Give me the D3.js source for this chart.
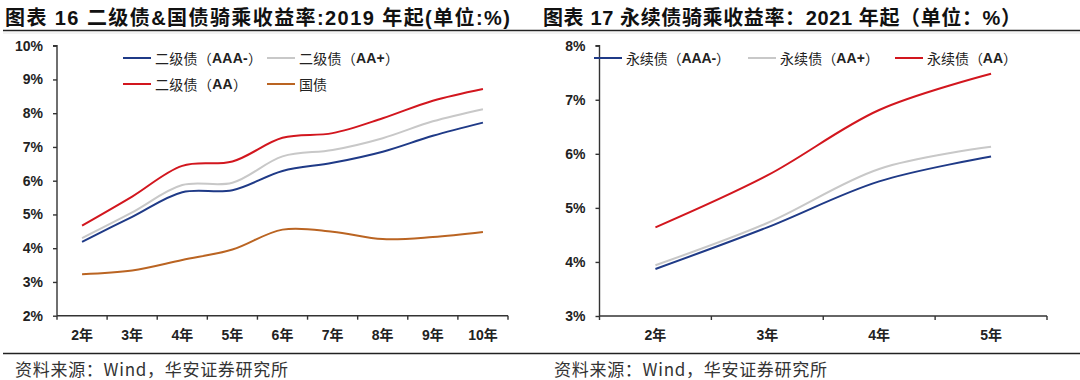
<!DOCTYPE html>
<html>
<head>
<meta charset="utf-8">
<script src="https://cdn.jsdelivr.net/npm/d3@7/dist/d3.min.js"></script>
<style>
html,body{margin:0;padding:0;background:#fff;}
svg{display:block;}
</style>
</head>
<body>
<svg id="c" width="1080" height="380"></svg>
<script>
// ---- Data ----
const leftCategories = ["2年","3年","4年","5年","6年","7年","8年","9年","10年"];
const leftAAAminus = [4.19, 4.93, 5.66, 5.72, 6.29, 6.53, 6.86, 7.33, 7.72];
const leftAAplus   = [4.30, 5.06, 5.87, 5.94, 6.72, 6.91, 7.26, 7.76, 8.12];
const leftAA       = [4.67, 5.53, 6.44, 6.57, 7.27, 7.41, 7.85, 8.37, 8.72];
const leftGov      = [3.23, 3.34, 3.65, 3.96, 4.55, 4.49, 4.27, 4.33, 4.48];
const leftYTicks   = [2,3,4,5,6,7,8,9,10];

const rightCategories = ["2年","3年","4年","5年"];
const rightAAAminus = [3.87, 4.64, 5.49, 5.95];
const rightAAplus   = [3.94, 4.72, 5.72, 6.13];
const rightAA       = [4.64, 5.60, 6.81, 7.48];
const rightYTicks   = [3,4,5,6,7,8];

const leftTitle  = "图表 16 二级债&国债骑乘收益率:2019 年起(单位:%)";
const rightTitle = "图表 17 永续债骑乘收益率：2021 年起（单位：%）";
const sourceText = "资料来源：Wind，华安证券研究所";

const C = {blue:"#1F3A87", grey:"#C8C8C8", red:"#D2161E", brown:"#BA6422"};

const svg = d3.select("#c");
const CJK = "'Noto Sans CJK SC','Noto Sans',sans-serif";
const LAT = "Arial,'Liberation Sans',sans-serif";

// titles
function title(x, txt, w){
  svg.append("text").attr("x",x).attr("y",25)
    .attr("font-family",LAT+","+CJK).attr("font-size",20).attr("font-weight","bold")
    .attr("textLength",w).attr("lengthAdjust","spacing")
    .attr("fill","#111").text(txt);
}
title(5, leftTitle, 505);
title(543, rightTitle, 478);

// rules
svg.append("line").attr("x1",3).attr("x2",1080).attr("y1",30.5).attr("y2",30.5).attr("stroke","#222").attr("stroke-width",1.5);
svg.append("line").attr("x1",3).attr("x2",1080).attr("y1",33).attr("y2",33).attr("stroke","#e6e6e6").attr("stroke-width",1);
svg.append("line").attr("x1",3).attr("x2",1080).attr("y1",353.5).attr("y2",353.5).attr("stroke","#222").attr("stroke-width",1.5);

// sources
[15, 554].forEach(x=>{
  svg.append("text").attr("x",x).attr("y",376).attr("font-family",CJK).attr("font-size",17)
    .attr("textLength",273).attr("lengthAdjust","spacing")
    .attr("fill","#333").text(sourceText);
});

function legendText(g, x, y, label, w){
  const t = g.append("text").attr("x",x).attr("y",y).attr("dominant-baseline","central")
    .attr("font-size",14).attr("fill","#222")
    .attr("textLength",w).attr("lengthAdjust","spacing");
  const parts = label.match(/[A-Za-z+\-]+|[^A-Za-z+\-]+/g);
  parts.forEach(p=>{
    const latin = /[A-Za-z]/.test(p) || /^[+\-]+$/.test(p);
    t.append("tspan").text(p)
      .attr("font-family", latin ? LAT : CJK)
      .attr("font-weight", latin ? "bold" : "normal");
  });
}

function chart(opt){
  const g = svg.append("g");
  const x = d3.scaleBand().domain(opt.cats).range([opt.x0, opt.x1]);
  const y = d3.scaleLinear().domain([opt.ymin, opt.ymax]).range([opt.y1, opt.y0]);

  const yAxis = d3.axisLeft(y).tickValues(opt.yticks).tickSize(4).tickPadding(10)
    .tickFormat(d=>d+"%");
  const ya = g.append("g").attr("transform",`translate(${opt.x0},0)`).call(yAxis);
  const xAxis = d3.axisBottom(x).tickSize(4).tickPadding(10);
  const xa = g.append("g").attr("transform",`translate(0,${opt.y1})`).call(xAxis);
  xa.selectAll(".tick line").remove();
  const bounds = opt.cats.map(c=>x(c)).concat([opt.x1]);
  xa.selectAll(".bt").data(bounds).enter().append("line").attr("class","bt")
    .attr("x1",d=>d).attr("x2",d=>d).attr("y1",0).attr("y2",4).attr("stroke","#333").attr("stroke-width",1.4);
  [ya,xa].forEach(a=>{
    a.select(".domain").attr("stroke","#333").attr("stroke-width",1.4);
    a.selectAll(".tick line").attr("stroke","#333").attr("stroke-width",1.4);
    a.selectAll("text").attr("font-family",LAT+","+CJK).attr("font-size",14)
      .attr("font-weight","bold").attr("fill","#222");
  });
  ya.select(".domain").attr("d",`M-4,${opt.y0}H0V${opt.y1}`);
  xa.select(".domain").attr("d",`M${opt.x0},0H${opt.x1}`);

  const line = d3.line().x((d,i)=>x(opt.cats[i])+x.bandwidth()/2).y(d=>y(d))
    .curve(d3.curveCatmullRom.alpha(0.5));
  opt.series.forEach(s=>{
    g.append("path").datum(s.values).attr("d",line).attr("fill","none")
      .attr("stroke",s.color).attr("stroke-width",2);
  });
  opt.legend.forEach(l=>{
    g.append("line").attr("x1",l.x).attr("x2",l.x+28).attr("y1",l.y).attr("y2",l.y)
      .attr("stroke",l.color).attr("stroke-width",2);
    legendText(g, l.x+32, l.y, l.label, l.w);
  });
}

chart({
  cats:leftCategories, x0:57, x1:508, y0:45.7, y1:315.7, ymin:2, ymax:10, yticks:leftYTicks,
  series:[
    {values:leftGov, color:C.brown},
    {values:leftAAplus, color:C.grey},
    {values:leftAAAminus, color:C.blue},
    {values:leftAA, color:C.red}
  ],
  legend:[
    {x:123, y:58, color:C.blue, label:"二级债（AAA-）", w:107},
    {x:267, y:58, color:C.grey, label:"二级债（AA+）", w:100},
    {x:123, y:84, color:C.red, label:"二级债（AA）", w:92},
    {x:267, y:84, color:C.brown, label:"国债", w:28}
  ]
});

chart({
  cats:rightCategories, x0:599.5, x1:1047, y0:45.7, y1:316, ymin:3, ymax:8, yticks:rightYTicks,
  series:[
    {values:rightAAplus, color:C.grey},
    {values:rightAAAminus, color:C.blue},
    {values:rightAA, color:C.red}
  ],
  legend:[
    {x:594, y:58, color:C.blue, label:"永续债（AAA-）", w:104},
    {x:748, y:58, color:C.grey, label:"永续债（AA+）", w:99},
    {x:895, y:58, color:C.red, label:"永续债（AA）", w:90}
  ]
});
</script>
</body>
</html>
